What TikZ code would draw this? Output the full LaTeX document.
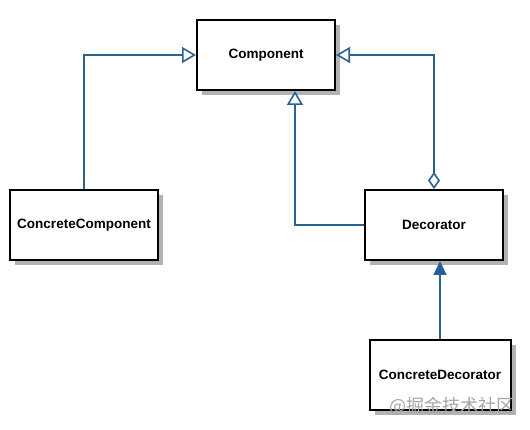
\documentclass[tikz,border=0pt]{standalone}
\usepackage{fontspec}
\setmainfont{Liberation Sans}
\newfontfamily\cjkfont{Noto Sans CJK SC}
\usetikzlibrary{positioning,arrows.meta,shadows}
\definecolor{umlblue}{HTML}{2B6390}
\definecolor{umlhead}{HTML}{1D5E9C}
\tikzset{
  classbox/.style={draw=black,line width=2pt,fill=white,minimum width=138pt,minimum height=70pt,
    font=\fontsize{13.5}{16}\selectfont\bfseries,
    drop shadow={shadow xshift=5pt,shadow yshift=-5pt,fill=black!30,opacity=1}},
  link/.style={draw=umlblue,line width=1.6pt},
  inherit/.style={link,-{Triangle[open,length=14pt,width=16pt,line width=1.6pt]}},
  aggregate/.style={link,{Diamond[open,length=17pt,width=12pt,line width=1.6pt]}-{Triangle[open,length=14pt,width=16pt,line width=1.6pt]}},
  realize/.style={link,-{Triangle[length=14pt,width=13pt,fill=umlhead]}}
}
\begin{document}
\begin{tikzpicture}[x=1pt,y=-1pt]
\useasboundingbox[fill=white] (0,0) rectangle (530,430);
%the nodes
\node [classbox] (component) at (266,55) {Component};
\node [classbox,minimum width=148pt] (concreteComp) at (84,225) {ConcreteComponent};
\node [classbox] (decorator) at (434,225) {Decorator};
\node [classbox,minimum width=141pt] (concreteDec) at (440,375) {ConcreteDecorator};
%drawings of lines
\draw[inherit] (concreteComp.north) |- (component.west);
\draw[aggregate] (decorator.north) |- (component.east);
\draw[inherit] (decorator.west) -| ([xshift=29pt]component.south);
\draw[realize] (concreteDec.north) -- (concreteDec.north |- decorator.south);
%watermark
\node [text=black!35,font=\cjkfont\fontsize{18}{20}\selectfont,anchor=east] (mark) at (518,406) {@掘金技术社区};
\end{tikzpicture}
\end{document}
